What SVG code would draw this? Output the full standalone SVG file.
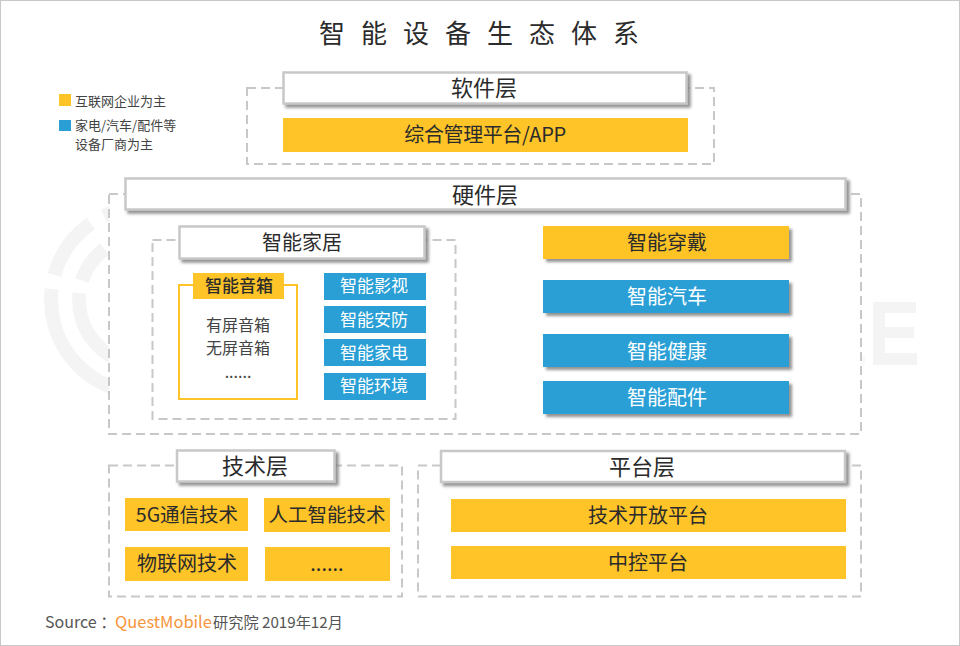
<svg xmlns="http://www.w3.org/2000/svg" width="960" height="646" viewBox="0 0 960 646">
<style>
text{font-family:"Noto Sans CJK SC","Liberation Sans",sans-serif;text-anchor:middle;fill:#2b2b2b}
.d{fill:#fff;stroke:#c8c8c8;stroke-width:2;stroke-dasharray:9 5}
.h{fill:#fff;stroke:#c8c8c8;stroke-width:2.5;filter:url(#s)}
.y{fill:#fec428}.b{fill:#2a9fd6}
.t{font-size:20px}.k{font-size:22px}.w{fill:#fff}.m{font-size:17px}.l{font-size:13px;text-anchor:start;fill:#444}
.c{font-size:16px;fill:#444}
.wm{fill:none;stroke:#f4f4f4;stroke-width:14}
</style>
<defs><filter id="s" x="-5%" y="-20%" width="110%" height="150%"><feDropShadow dx="3" dy="3" stdDeviation="1.5" flood-color="#777" flood-opacity=".8"/></filter></defs>
<rect width="960" height="646" fill="#fff"/>
<rect x=".5" y=".5" width="959" height="645" fill="none" stroke="#c8c8c8"/>
<g id="watermark">
<path class="wm" d="M54.400 275A93 93 0 0 1 90.800 223.600M104 216A93 93 0 0 1 130 208M51.700 289A93 93 0 0 0 130 392"/>
<path class="wm" d="M82 280.500A65 65 0 0 1 104.500 249M79.500 293A65 65 0 0 0 144 365"/>
<path fill="#f4f4f4" d="M873 302H916V313H885V327H914V338H885V353H917V365H873Z"/>
<rect x="862" y="356" width="3" height="9" fill="#f8f8f8"/>
</g>
<text x="487" y="43" style="font-size:26px;letter-spacing:16px">智能设备生态体系</text>
<g id="legend">
<rect class="y" x="59" y="94" width="12" height="12"/><text class="l" x="75" y="106">互联网企业为主</text>
<rect class="b" x="59" y="120" width="12" height="11"/><text class="l" x="75" y="130"><tspan x="75">家电/汽车/配件等</tspan><tspan x="75" dy="19">设备厂商为主</tspan></text>
</g>
<g id="software"><rect class="d" x="247" y="88" width="467" height="76"/><rect class="h" x="283.500" y="72.500" width="403" height="31"/><text class="k" x="484" y="96">软件层</text>
<rect class="y" x="283" y="118" width="405" height="34"/><text class="t" x="485" y="142" style="letter-spacing:-.4px">综合管理平台/APP</text></g>
<g id="hardware"><rect class="d" x="109" y="194" width="752" height="240"/><rect class="h" x="125.500" y="178.500" width="720" height="31"/><text class="k" x="485" y="203">硬件层</text></g>
<g id="home"><rect class="d" x="152.500" y="240" width="303" height="179"/><rect class="h" x="179.500" y="226.500" width="245" height="32"/><text class="t" x="302" y="250">智能家居</text></g>
<g id="speaker"><rect x="179" y="285" width="118" height="114" fill="#fff" stroke="#fec428" stroke-width="2"/><rect class="y" x="193" y="273" width="91" height="26"/><text class="m" x="239" y="292" font-weight="500">智能音箱</text>
<text class="c" x="238" y="331">有屏音箱</text><text class="c" x="238" y="354">无屏音箱</text><text class="c" x="238" y="378">......</text></g>
<g id="h1"><rect class="b" x="324" y="273" width="102" height="27"/><text class="m w" x="374" y="292">智能影视</text></g>
<g id="h2"><rect class="b" x="324" y="306" width="102" height="27"/><text class="m w" x="374" y="326">智能安防</text></g>
<g id="h3"><rect class="b" x="324" y="339" width="102" height="27"/><text class="m w" x="374" y="359">智能家电</text></g>
<g id="h4"><rect class="b" x="324" y="373" width="102" height="27"/><text class="m w" x="374" y="392">智能环境</text></g>
<g id="wear"><rect class="y" x="543" y="226" width="246" height="33" filter="url(#s)"/><text class="t" x="667" y="250">智能穿戴</text></g>
<g id="car"><rect class="b" x="543" y="280" width="246" height="33" filter="url(#s)"/><text class="t w" x="667" y="304">智能汽车</text></g>
<g id="health"><rect class="b" x="543" y="334" width="246" height="33" filter="url(#s)"/><text class="t w" x="667" y="359">智能健康</text></g>
<g id="parts"><rect class="b" x="543" y="381" width="246" height="33" filter="url(#s)"/><text class="t w" x="667" y="405">智能配件</text></g>
<g id="tech"><rect class="d" x="109" y="465.500" width="293" height="131"/><rect class="h" x="177" y="450.500" width="157.500" height="31"/><text class="k" x="255" y="474">技术层</text>
<rect class="y" x="125" y="498" width="123" height="33"/><text class="t" x="187" y="522" style="font-size:19.500px">5G通信技术</text>
<rect class="y" x="264" y="498" width="126" height="34"/><text class="t" x="327" y="522" style="font-size:19.500px">人工智能技术</text>
<rect class="y" x="125" y="547" width="123" height="34"/><text class="t" x="187" y="571">物联网技术</text>
<rect class="y" x="265" y="547" width="125" height="34"/><text class="t" x="327" y="571">......</text></g>
<g id="platform"><rect class="d" x="418" y="465.500" width="443" height="131"/><rect class="h" x="441" y="451" width="404" height="31"/><text class="k" x="642" y="475">平台层</text>
<rect class="y" x="451" y="499" width="395" height="33"/><text class="t" x="648" y="523">技术开放平台</text>
<rect class="y" x="451" y="546" width="395" height="33"/><text class="t" x="648" y="570">中控平台</text></g>
<g id="source"><text x="45" y="628" style="font-size:16px;text-anchor:start;fill:#555">Source ：</text><text x="115" y="628" style="font-size:16.500px;text-anchor:start;fill:#f7943a">QuestMobile</text><text x="213" y="628" style="font-size:15.200px;text-anchor:start;fill:#555">研究院 2019年12月</text></g>
</svg>
